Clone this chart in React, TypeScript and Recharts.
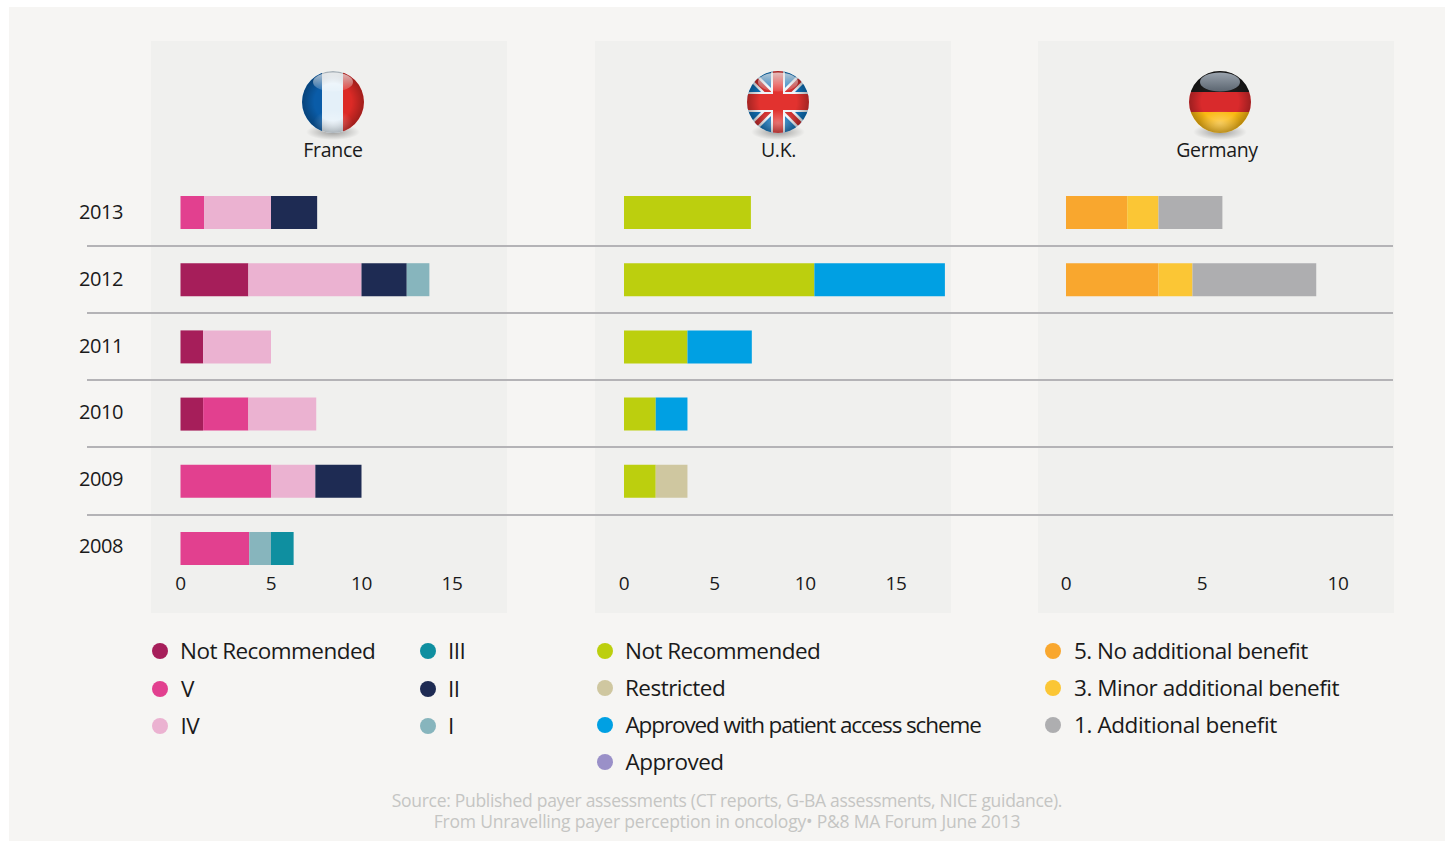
import React from "react";
import { BarChart, Bar, XAxis, YAxis } from "recharts";

const years = ["2013", "2012", "2011", "2010", "2009", "2008"];
const frNotRec = [0, 3.75, 1.25, 1.25, 0, 0];
const frV = [1.3, 0, 0, 2.5, 5, 3.8];
const frIV = [3.7, 6.25, 3.75, 3.75, 2.45, 0];
const frII = [2.55, 2.5, 0, 0, 2.55, 0];
const frI = [0, 1.25, 0, 0, 0, 1.2];
const frIII = [0, 0, 0, 0, 0, 1.25];
const ukNotRec = [7, 10.5, 3.5, 1.75, 1.75, 0];
const ukRestricted = [0, 0, 0, 0, 1.75, 0];
const ukScheme = [0, 7.2, 3.55, 1.75, 0, 0];
const ukApproved = [0, 0, 0, 0, 0, 0];
const deNoBenefit = [2.25, 3.4, 0, 0, 0, 0];
const deMinor = [1.15, 1.25, 0, 0, 0, 0];
const deAdditional = [2.35, 4.55, 0, 0, 0, 0];

const frTicks = [0, 5, 10, 15];
const deTicks = [0, 5, 10];

const C = {
  frNR: "#a61e5a", frV: "#e2408f", frIV: "#ebb2d1", frIII: "#0f8fa0", frII: "#1e2b53", frI: "#87b5bd",
  ukNR: "#bccf0e", ukR: "#cfc7a0", ukS: "#00a0e3", ukA: "#9a90c8",
  de5: "#f9a72e", de3: "#fbc635", de1: "#aeaeb0",
};

const FONT = "'Open Sans', sans-serif";
const table = (cols: Record<string, number[]>) =>
  years.map((year, i) => {
    const row: Record<string, number | string> = { year };
    Object.keys(cols).forEach((k) => (row[k] = cols[k][i]));
    return row;
  });

const frData = table({ frNotRec, frV, frIV, frII, frI, frIII });
const ukData = table({ ukNotRec, ukRestricted, ukScheme, ukApproved });
const deData = table({ deNoBenefit, deMinor, deAdditional });

type S = { key: string; color: string };
const frSeries: S[] = [
  { key: "frNotRec", color: C.frNR }, { key: "frV", color: C.frV }, { key: "frIV", color: C.frIV },
  { key: "frII", color: C.frII }, { key: "frI", color: C.frI }, { key: "frIII", color: C.frIII },
];
const ukSeries: S[] = [
  { key: "ukNotRec", color: C.ukNR }, { key: "ukRestricted", color: C.ukR },
  { key: "ukScheme", color: C.ukS }, { key: "ukApproved", color: C.ukA },
];
const deSeries: S[] = [
  { key: "deNoBenefit", color: C.de5 }, { key: "deMinor", color: C.de3 }, { key: "deAdditional", color: C.de1 },
];

const TOP = 178.9;
const PLOT_H = 403.2;
const H = 640;
const AX_H = 30;

const YearTick = (p: any) => (
  <text
    x={p.x}
    y={p.y - p.index * 0.4}
    dy={6.4}
    textAnchor="end"
    fontFamily={FONT}
    fontSize={20}
    letterSpacing={-0.45}
    fill="#1a1a1a"
  >
    {p.payload.value}
  </text>
);

function Panel({ data, series, x0, pxPerUnit, ticks, showYears, plotW }: {
  data: any[]; series: S[]; x0: number; pxPerUnit: number; ticks: number[]; showYears?: boolean; plotW: number;
}) {
  const yW = showYears ? x0 : 40;
  const tickStyle = { fontFamily: FONT, fontSize: 19, fill: "#1a1a1a", letterSpacing: -0.3 };
  return (
    <div style={{ position: "absolute", left: x0 - yW, top: 0 }}>
      <BarChart
        width={yW + plotW + 30}
        height={H}
        data={data}
        layout="vertical"
        barCategoryGap={17.1}
        margin={{ top: TOP, bottom: H - TOP - PLOT_H - AX_H, left: 0, right: 30 }}
      >
        <XAxis
          type="number"
          domain={[0, plotW / pxPerUnit]}
          ticks={ticks}
          axisLine={false}
          tickLine={false}
          tickSize={0}
          tickMargin={-6}
          height={AX_H}
          interval={0}
          tick={tickStyle}
        />
        <YAxis
          type="category"
          dataKey="year"
          width={yW}
          tick={showYears ? YearTick : false}
          axisLine={false}
          tickLine={false}
          tickSize={0}
          tickMargin={57.5}
        />
        {series.map((s) => (
          <Bar key={s.key} dataKey={s.key} stackId="a" fill={s.color} isAnimationActive={false} />
        ))}
      </BarChart>
    </div>
  );
}

function Sphere({ cx, id, gloss = "gloss", children }: { cx: number; id: string; gloss?: string; children: React.ReactNode }) {
  const cy = 102;
  const r = 31;
  return (
    <g>
      <ellipse cx={cx} cy={cy + 30} rx={27} ry={8} fill="url(#shadow)" />
      <clipPath id={id}><circle cx={cx} cy={cy} r={r} /></clipPath>
      <g clipPath={`url(#${id})`}>
        {children}
        <circle cx={cx} cy={cy} r={r} fill="url(#rim)" />
        <ellipse cx={cx} cy={cy + 21} rx={20} ry={13} fill="url(#glow)" />
        <ellipse cx={cx} cy={cy - 20} rx={20} ry={9.5} fill={`url(#${gloss})`} />
      </g>
    </g>
  );
}

function Flags() {
  const fx = 333, ux = 778, gx = 1220, cy = 102, r = 31;
  const jack: [number, number][] = [[-1, -1], [1, -1]];
  return (
    <svg width={1450} height={842} style={{ position: "absolute", left: 0, top: 0 }}>
      <defs>
        <radialGradient id="shadow"><stop offset="0" stopColor="#000" stopOpacity={0.35} /><stop offset="1" stopColor="#000" stopOpacity={0} /></radialGradient>
        <radialGradient id="rim" cx="0.5" cy="0.5" r="0.5"><stop offset="0.6" stopColor="#000" stopOpacity={0} /><stop offset="1" stopColor="#000" stopOpacity={0.28} /></radialGradient>
        <radialGradient id="glow"><stop offset="0" stopColor="#fff" stopOpacity={0.32} /><stop offset="1" stopColor="#fff" stopOpacity={0} /></radialGradient>
        <linearGradient id="gloss" x1="0" y1="0" x2="0" y2="1"><stop offset="0" stopColor="#fff" stopOpacity={0.7} /><stop offset="1" stopColor="#fff" stopOpacity={0.12} /></linearGradient>
        <linearGradient id="glossGrey" x1="0" y1="0" x2="0" y2="1"><stop offset="0" stopColor="#9aa3ad" /><stop offset="1" stopColor="#5b6570" /></linearGradient>
      </defs>
      <Sphere cx={fx} id="fr">
        <rect x={fx - r} y={cy - r} width={r * 2} height={r * 2} fill="#e4f0f9" />
        <rect x={fx - r} y={cy - r} width={20} height={r * 2} fill="#0a5ca8" />
        <rect x={fx + 10} y={cy - r} width={21} height={r * 2} fill="#dc2a26" />
      </Sphere>
      <Sphere cx={ux} id="uk">
        <rect x={ux - r} y={cy - r} width={r * 2} height={r * 2} fill="#0f72ba" />
        {jack.map(([a, b], i) => (
          <g key={i}>
            <line x1={ux + a * r} y1={cy + b * r} x2={ux - a * r} y2={cy - b * r} stroke="#f0f4f8" strokeWidth={10} />
            <line x1={ux + a * r} y1={cy + b * r} x2={ux - a * r} y2={cy - b * r} stroke="#d0302f" strokeWidth={5} />
          </g>
        ))}
        <rect x={ux - 7} y={cy - r} width={14} height={r * 2} fill="#f0f4f8" />
        <rect x={ux - r} y={cy - 10} width={r * 2} height={20} fill="#f0f4f8" />
        <rect x={ux - 5} y={cy - r} width={10} height={r * 2} fill="#e2322f" />
        <rect x={ux - r} y={cy - 8} width={r * 2} height={16} fill="#e2322f" />
      </Sphere>
      <Sphere cx={gx} id="de" gloss="glossGrey">
        <rect x={gx - r} y={cy - r} width={r * 2} height={21} fill="#1b1b1b" />
        <rect x={gx - r} y={cy - 10} width={r * 2} height={20} fill="#d92a2c" />
        <rect x={gx - r} y={cy + 10} width={r * 2} height={22} fill="#fbb912" />
      </Sphere>
    </svg>
  );
}

const legendFr = [
  { label: "Not Recommended", color: C.frNR, dot: 160, text: 180, y: 651, ls: -0.55 },
  { label: "V", color: C.frV, dot: 160, text: 181, y: 689, ls: -0.55 },
  { label: "IV", color: C.frIV, dot: 160, text: 180.5, y: 726, ls: -0.55 },
  { label: "III", color: C.frIII, dot: 428, text: 448, y: 651, ls: -0.55 },
  { label: "II", color: C.frII, dot: 428, text: 448, y: 689, ls: -0.55 },
  { label: "I", color: C.frI, dot: 428, text: 448, y: 726, ls: -0.55 },
];
const legendUk = [
  { label: "Not Recommended", color: C.ukNR, dot: 605, text: 625, y: 651, ls: -0.55 },
  { label: "Restricted", color: C.ukR, dot: 605, text: 625, y: 688, ls: -0.52 },
  { label: "Approved with patient access scheme", color: C.ukS, dot: 605, text: 625.5, y: 725, ls: -1.12 },
  { label: "Approved", color: C.ukA, dot: 605, text: 625.5, y: 762, ls: -0.5 },
];
const legendDe = [
  { label: "5. No additional benefit", color: C.de5, dot: 1053, text: 1074, y: 651, ls: -0.5 },
  { label: "3. Minor additional benefit", color: C.de3, dot: 1053, text: 1074, y: 688, ls: -0.47 },
  { label: "1. Additional benefit", color: C.de1, dot: 1053, text: 1074, y: 725, ls: -0.4 },
];
const titles = [
  { label: "France", x: 333 },
  { label: "U.K.", x: 778.5 },
  { label: "Germany", x: 1217 },
];
const sourceLines = [
  { text: "Source: Published payer assessments (CT reports, G-BA assessments, NICE guidance).", ls: -0.3 },
  { text: "From Unravelling payer perception in oncology\u2022 P&8 MA Forum June 2013", ls: -0.2 },
];
const separators = [246, 313, 380, 447, 515];
const panels = [151, 595, 1038];

export default function App() {
  const abs = { position: "absolute" as const };
  return (
    <div style={{ ...abs, left: 0, top: 0, width: 1450, height: 842, background: "#fff", overflow: "hidden", fontFamily: FONT }}>
      <div style={{ ...abs, left: 9, top: 7, width: 1436, height: 834, background: "#f6f5f3" }} />
      {panels.map((x) => (
        <div key={x} style={{ ...abs, left: x, top: 41, width: 356, height: 572, background: "#f0f0ee" }} />
      ))}
      {separators.map((y) => (
        <div key={y} style={{ ...abs, left: 87, top: y - 1, width: 1306, height: 2, background: "#b4b3b6" }} />
      ))}
      <Panel data={frData} series={frSeries} x0={180.5} pxPerUnit={18.1} ticks={frTicks} showYears plotW={320} />
      <Panel data={ukData} series={ukSeries} x0={624} pxPerUnit={18.13} ticks={frTicks} plotW={325} />
      <Panel data={deData} series={deSeries} x0={1066} pxPerUnit={27.2} ticks={deTicks} plotW={320} />
      <Flags />
      {titles.map((t) => (
        <div key={t.label} style={{ ...abs, left: t.x - 100, width: 200, top: 136, textAlign: "center", fontSize: 19.5, lineHeight: "28px", letterSpacing: -0.3, color: "#1a1a1a" }}>{t.label}</div>
      ))}
      {[...legendFr, ...legendUk, ...legendDe].map((l, i) => (
        <React.Fragment key={i}>
          <div style={{ ...abs, left: l.dot - 8, top: l.y - 8, width: 16, height: 16, borderRadius: 8, background: l.color }} />
          <div style={{ ...abs, left: l.text, top: l.y - 17, lineHeight: "34px", fontSize: 22.5, letterSpacing: l.ls, color: "#1a1a1a", whiteSpace: "nowrap" }}>{l.label}</div>
        </React.Fragment>
      ))}
      {sourceLines.map((s, i) => (
        <div key={i} style={{ ...abs, left: 0, width: 1454, top: 791 + i * 21, textAlign: "center", lineHeight: "18px", fontSize: 17.5, letterSpacing: s.ls, color: "#c5c5c3", whiteSpace: "nowrap" }}>{s.text}</div>
      ))}
    </div>
  );
}
